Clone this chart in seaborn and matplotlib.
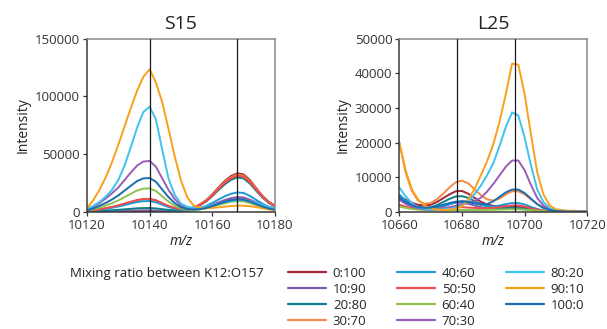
import numpy as np
import pandas as pd
import matplotlib
matplotlib.use("Agg")
import matplotlib.pyplot as plt
from matplotlib.lines import Line2D
import seaborn as sns

# mixing ratios (K12:O157) and their colours
ratios = ['0:100', '10:90', '20:80', '30:70', '40:60', '50:50',
          '60:40', '70:30', '80:20', '90:10', '100:0']
colors = ['#a4243b', '#7b5ca6', '#0f7f8a', '#f7894a', '#1c9ad6', '#ec4b4f',
          '#8cc24a', '#9a5cb8', '#3fc2ef', '#f9a01b', '#1a6db3']

# S15 spectra, m/z 10120-10180 every 2
mz_s15 = list(range(10120, 10181, 2))
s15_0_100 = [300, 300, 350, 350, 350, 400, 400, 450, 500, 500, 500, 500, 450, 500, 700, 1050, 1950, 3600, 6250, 9850,
             15150, 21100, 26700, 31000, 33300, 32300, 27400, 20400, 13800, 8550, 5250]
s15_10_90 = [250, 300, 350, 450, 550, 700, 800, 950, 1100, 1200, 1200, 1100, 850, 650, 550, 600, 850, 1450, 2450, 3800,
             5800, 8050, 10200, 11800, 12700, 12300, 10450, 7800, 5300, 3300, 2050]
s15_20_80 = [300, 450, 700, 1000, 1300, 1650, 2100, 2500, 2950, 3150, 3200, 2850, 2200, 1600, 1250, 1200, 1800, 3200, 5500, 8750,
             13500, 18800, 23800, 27650, 29700, 28800, 24400, 18200, 12300, 7600, 4600]
s15_30_70 = [550, 1150, 2000, 2900, 4000, 5250, 6750, 8300, 9750, 10600, 10700, 9550, 7150, 4800, 3150, 2150, 2300, 3600, 6000, 9500,
             14600, 20400, 25800, 30000, 32200, 31200, 26400, 19700, 13300, 8200, 5000]
s15_40_60 = [500, 1000, 1750, 2550, 3450, 4500, 5800, 7150, 8400, 9100, 9200, 8200, 6150, 4100, 2600, 1650, 1450, 2000, 3200, 5000,
             7600, 10600, 13400, 15550, 16700, 16200, 13700, 10250, 6950, 4300, 2650]
s15_50_50 = [600, 1200, 2100, 3100, 4200, 5500, 7100, 8700, 10200, 11100, 11200, 10000, 7450, 5000, 3250, 2200, 2300, 3500, 5850, 9200,
             14150, 19750, 25000, 29000, 31200, 30300, 25600, 19100, 12900, 7950, 4850]
s15_60_40 = [900, 2000, 3600, 5400, 7400, 9800, 12700, 15600, 18400, 20000, 20200, 18000, 13400, 8800, 5300, 2800, 1650, 1500, 1900, 2800,
             4250, 5900, 7400, 8600, 9200, 8900, 7600, 5700, 3900, 2450, 1550]
s15_70_30 = [1500, 4000, 7500, 11500, 16000, 21000, 27500, 34000, 40000, 43500, 44000, 39000, 29000, 19000, 11000, 5500, 3000, 2500, 3000, 4000,
             5500, 7500, 9200, 10500, 11000, 11000, 10000, 8300, 6200, 4300, 2900]
s15_80_20 = [2500, 5000, 8500, 13000, 19000, 27500, 40000, 56000, 73000, 86500, 91000, 80000, 54000, 29000, 14500, 7000, 4200, 3500, 3800, 4500,
             5500, 6800, 8200, 9300, 10000, 10000, 9200, 7800, 6000, 4300, 3000]
s15_90_10 = [3000, 10000, 19000, 30000, 43000, 58000, 74000, 90000, 105000, 117000, 123500, 112000, 95000, 72000, 48000, 27000, 12500, 5500, 3500, 3000,
             3300, 3800, 4400, 4900, 5200, 5200, 4800, 4000, 3000, 2000, 1300]
s15_100_0 = [1200, 2800, 5100, 7700, 10600, 14100, 18300, 22500, 26600, 28900, 29200, 26000, 19300, 12700, 7550, 3900, 2200, 1850, 2250, 3250,
             4900, 6800, 8600, 10000, 10700, 10400, 8800, 6600, 4500, 2800, 1800]

# L25 spectra, m/z 10660-10720 every 2
mz_l25 = list(range(10660, 10721, 2))
l25_0_100 = [4500, 3500, 2600, 2000, 1800, 2000, 2800, 3900, 5000, 5900, 6000, 5200, 4000, 2900, 2100, 1700, 1600, 1600, 1600, 1500,
             1300, 900, 500, 250, 100, 50, 50, 50, 50, 50, 50]
l25_10_90 = [4200, 3000, 2000, 1300, 1000, 1000, 1300, 1800, 2300, 2600, 2600, 2300, 1800, 1300, 1000, 900, 900, 900, 900, 850,
             700, 500, 300, 150, 50, 50, 50, 50, 50, 50, 50]
l25_20_80 = [3500, 2600, 1900, 1400, 1200, 1300, 1900, 2800, 3700, 4400, 4500, 4000, 3100, 2200, 1600, 1200, 1100, 1100, 1100, 1000,
             900, 600, 350, 150, 80, 50, 50, 50, 50, 50, 50]
l25_30_70 = [20000, 11500, 6000, 3200, 2300, 2500, 3600, 5200, 7000, 8500, 9000, 8200, 6500, 4800, 3600, 3200, 3800, 5000, 5900, 5900,
             5000, 3600, 2200, 1100, 500, 200, 100, 50, 50, 50, 50]
l25_40_60 = [5000, 3300, 2100, 1300, 900, 800, 1000, 1500, 2100, 2700, 3000, 3000, 2600, 2000, 1600, 1500, 1800, 2200, 2500, 2500,
             2100, 1400, 800, 350, 150, 50, 50, 50, 50, 50, 50]
l25_50_50 = [2000, 1500, 1100, 800, 700, 700, 800, 1000, 1200, 1300, 1300, 1200, 1100, 1000, 1000, 1100, 1300, 1600, 1800, 1800,
             1500, 1000, 600, 300, 100, 50, 50, 50, 50, 50, 50]
l25_60_40 = [1500, 1100, 800, 600, 500, 450, 450, 450, 500, 500, 500, 500, 500, 500, 500, 550, 600, 650, 700, 700,
             600, 450, 300, 150, 80, 50, 50, 50, 50, 50, 50]
l25_70_30 = [3500, 2300, 1500, 1000, 700, 600, 700, 900, 1300, 1700, 2100, 2500, 3000, 4000, 5800, 8000, 10500, 13000, 14800, 14800,
             12000, 7800, 4000, 1800, 700, 300, 150, 100, 100, 100, 100]
l25_80_20 = [7000, 4500, 2500, 1300, 800, 600, 600, 700, 900, 1200, 1800, 3000, 5000, 7500, 10500, 14000, 19000, 24500, 28700, 27800,
             21500, 13500, 6500, 2800, 1000, 400, 250, 200, 150, 150, 100]
l25_90_10 = [20000, 12000, 6500, 3500, 1800, 1000, 600, 500, 600, 900, 1500, 3500, 6500, 10500, 14500, 19500, 26000, 34000, 42800, 42500,
             34000, 22500, 11500, 5000, 1800, 700, 400, 300, 250, 200, 150]
l25_100_0 = [4000, 2800, 1900, 1300, 1100, 1200, 1500, 2000, 2500, 2900, 3000, 2800, 2400, 2100, 2200, 3000, 4300, 5600, 6400, 6400,
             5400, 3800, 2200, 1100, 500, 200, 100, 50, 50, 50, 50]

# marker lines (m/z)
marks_s15 = [10140, 10168]
marks_l25 = [10678.3, 10696.8]

s15_series = [s15_0_100, s15_10_90, s15_20_80, s15_30_70, s15_40_60, s15_50_50,
              s15_60_40, s15_70_30, s15_80_20, s15_90_10, s15_100_0]
l25_series = [l25_0_100, l25_10_90, l25_20_80, l25_30_70, l25_40_60, l25_50_50,
              l25_60_40, l25_70_30, l25_80_20, l25_90_10, l25_100_0]


def long_df(mz, series):
    frames = []
    for r, vals in zip(ratios, series):
        frames.append(pd.DataFrame({'mz': mz, 'intensity': vals, 'ratio': r}))
    return pd.concat(frames, ignore_index=True)


df_s15 = long_df(mz_s15, s15_series)
df_l25 = long_df(mz_l25, l25_series)

sns.set_theme(style='white')
plt.rcParams['font.family'] = ['Open Sans', 'DejaVu Sans']
palette = dict(zip(ratios, colors))

fig = plt.figure(figsize=(6.07, 3.29), dpi=100)
ax1 = fig.add_axes([0.1433, 0.3565, 0.3097, 0.5258])
ax2 = fig.add_axes([0.6578, 0.3565, 0.3097, 0.5258])

panels = [(ax1, df_s15, 'S15', (10120, 10180), (0, 150000), 50000, marks_s15),
          (ax2, df_l25, 'L25', (10660, 10720), (0, 50000), 10000, marks_l25)]

for ax, df, title, xlim, ylim, ystep, marks in panels:
    sns.lineplot(data=df, x='mz', y='intensity', hue='ratio', hue_order=ratios,
                 palette=palette, estimator=None, sort=False, linewidth=1.4,
                 legend=False, ax=ax, solid_joinstyle='round')
    for m in marks:
        ax.axvline(m, color='#1a1a1a', lw=0.9, zorder=5)
    ax.set_xlim(*xlim)
    ax.set_ylim(*ylim)
    ax.set_xticks(np.arange(xlim[0], xlim[1] + 1, 20))
    ax.set_yticks(np.arange(ylim[0], ylim[1] + 1, ystep))
    ax.set_title(title, fontsize=14, pad=7, color='#222222')
    ax.set_xlabel('m/z', fontsize=10, style='italic', labelpad=2, color='#222222')
    ax.set_ylabel('Intensity', fontsize=10, labelpad=3, color='#222222')
    ax.tick_params(axis='both', which='major', labelsize=9.5, length=3, width=0.9,
                   direction='out', colors='#333333', pad=2,
                   bottom=True, left=True, top=False, right=False)
    for side in ['left', 'bottom']:
        ax.spines[side].set_color('#3a3a3a')
        ax.spines[side].set_linewidth(1.1)
    for side in ['top', 'right']:
        ax.spines[side].set_color('#8a8a8a')
        ax.spines[side].set_linewidth(1.1)

fig.text(70 / 607, 1 - 273 / 329, 'Mixing ratio between K12:O157',
         fontsize=9.5, va='center', ha='left', color='#222222')

handles = [Line2D([0], [0], color=c, lw=1.6) for c in colors]
fig.legend(handles, ratios, ncol=3, loc='upper left',
           bbox_to_anchor=(288 / 607, 1 - 267 / 329), frameon=False,
           fontsize=9.5, handlelength=2.9, handletextpad=0.5,
           columnspacing=2.3, labelspacing=0.22, borderpad=0, borderaxespad=0)

fig.savefig('out.png', dpi=100)
